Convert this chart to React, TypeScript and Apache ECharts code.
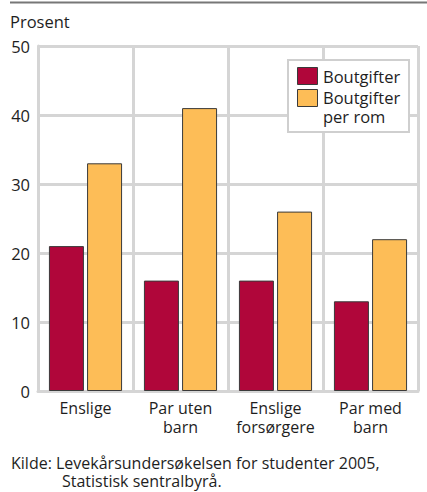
import React, { useEffect, useRef } from "react";
import * as echarts from "echarts";

const categories = ["Enslige", "Par uten\nbarn", "Enslige\nforsørgere", "Par med\nbarn"];
const boutgifter = [21, 16, 16, 13];
const boutgifterPerRom = [33, 41, 26, 22];
const seriesNames = ["Boutgifter", "Boutgifter\nper rom"];
const yTicks = { min: 0, max: 50, interval: 10 };
const unitLabel = "Prosent";
const sourceLines = ["Kilde: Levekårsundersøkelsen for studenter 2005,", "Statistisk sentralbyrå."];

const RED = "#B0063A";
const YELLOW = "#FDBD57";
const GRID = "#d5d5d5";
const TEXT = "#1e1e1e";
const FONT = "'Open Sans', 'Noto Sans', sans-serif";
const FS = 16.5;
const FS_SRC = 16;

export default function App() {
  const ref = useRef<HTMLDivElement>(null);
  useEffect(() => {
    if (!ref.current) return;
    const chart = echarts.init(ref.current, null, { renderer: "svg" });
    chart.setOption({
      animation: false,
      textStyle: { fontFamily: FONT },
      grid: { left: 38, right: 9, top: 46, bottom: 101, containLabel: false },
      xAxis: {
        type: "category",
        data: categories,
        axisLine: { show: true, lineStyle: { color: GRID, width: 3 } },
        axisTick: { show: false },
        splitLine: { show: true, lineStyle: { color: GRID, width: 3 } },
        axisLabel: { fontSize: 16, color: TEXT, lineHeight: 19, margin: 7, fontFamily: FONT, interval: 0 },
      },
      yAxis: {
        type: "value",
        min: yTicks.min,
        max: yTicks.max,
        interval: yTicks.interval,
        axisLine: { show: true, lineStyle: { color: GRID, width: 3 } },
        axisTick: { show: false },
        splitLine: { show: true, lineStyle: { color: GRID, width: 3 } },
        axisLabel: { fontSize: FS, color: TEXT, margin: 8, fontFamily: FONT },
      },
      series: [
        {
          type: "bar",
          name: seriesNames[0],
          data: boutgifter,
          barWidth: 35,
          barGap: "9%",
          itemStyle: { color: RED, borderColor: "#3a3a3a", borderWidth: 1 },
        },
        {
          type: "bar",
          name: seriesNames[1],
          data: boutgifterPerRom,
          barWidth: 35,
          barGap: "9%",
          itemStyle: { color: YELLOW, borderColor: "#3a3a3a", borderWidth: 1 },
        },
      ],
      graphic: [
        {
          type: "line",
          shape: { x1: 10, y1: 2.5, x2: 427, y2: 2.5 },
          style: { stroke: "#777", lineWidth: 2 },
        },
        {
          type: "text",
          x: 10,
          y: 21,
          style: { text: unitLabel, fontSize: FS, fill: TEXT, fontFamily: FONT, textVerticalAlign: "middle" },
        },
        {
          type: "rect",
          z: 100,
          shape: { x: 288, y: 60, width: 121, height: 72 },
          style: { fill: "#fff", stroke: "#cfcfcf", lineWidth: 2 },
        },
        {
          type: "rect",
          z: 101,
          shape: { x: 297.5, y: 67.5, width: 20, height: 17 },
          style: { fill: RED, stroke: "#3a3a3a", lineWidth: 1 },
        },
        {
          type: "text",
          z: 101,
          x: 323,
          y: 76,
          style: { text: seriesNames[0], fontSize: FS, fill: TEXT, fontFamily: FONT, textVerticalAlign: "middle" },
        },
        {
          type: "rect",
          z: 101,
          shape: { x: 297.5, y: 89.5, width: 20, height: 17 },
          style: { fill: YELLOW, stroke: "#3a3a3a", lineWidth: 1 },
        },
        {
          type: "text",
          z: 101,
          x: 323,
          y: 87.5,
          style: { text: seriesNames[1], fontSize: FS, lineHeight: 19.5, fill: TEXT, fontFamily: FONT, textVerticalAlign: "top" },
        },
        {
          type: "text",
          x: 11,
          y: 463,
          style: { text: sourceLines[0], fontSize: FS_SRC, fill: TEXT, fontFamily: FONT, textVerticalAlign: "middle" },
        },
        {
          type: "text",
          x: 62,
          y: 481,
          style: { text: sourceLines[1], fontSize: FS_SRC, fill: TEXT, fontFamily: FONT, textVerticalAlign: "middle" },
        },
      ],
    });
    return () => chart.dispose();
  }, []);
  return <div ref={ref} style={{ width: 427, height: 492, position: "absolute", left: 0, top: 0 }} />;
}
